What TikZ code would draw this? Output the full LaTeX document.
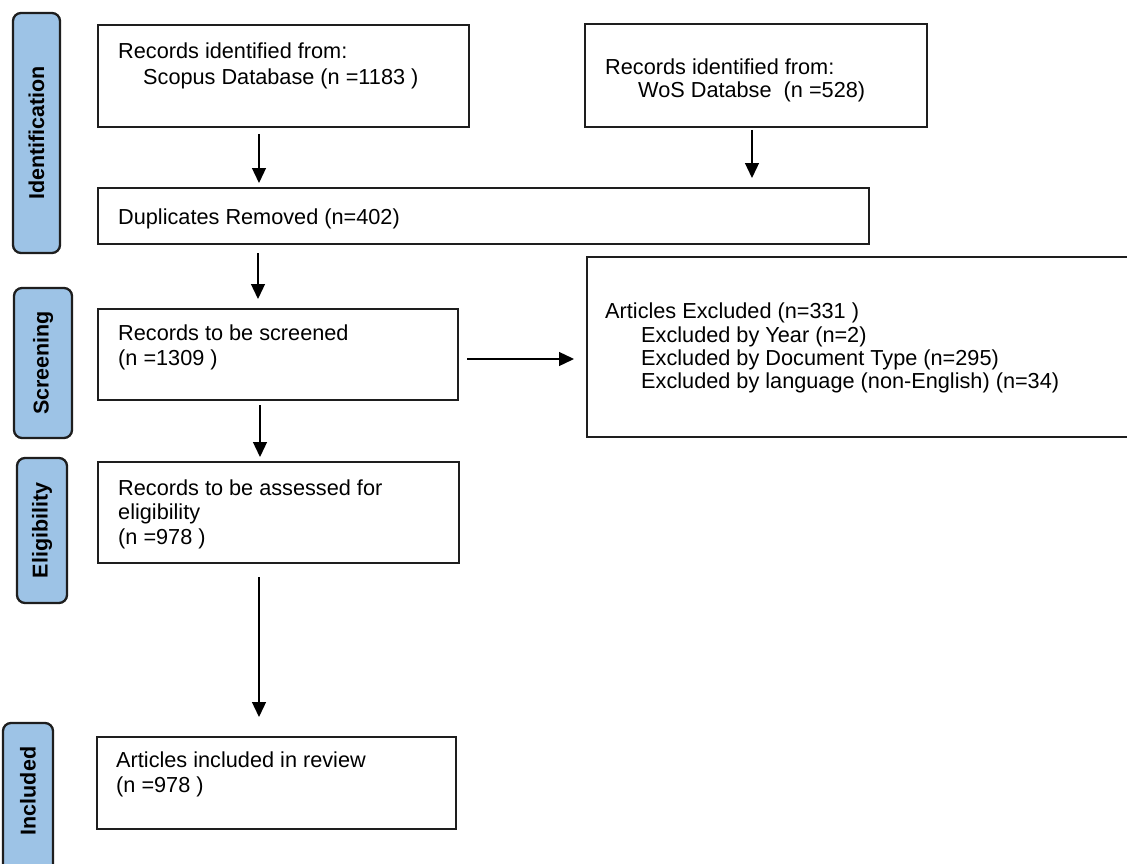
\documentclass[tikz,border=0pt]{standalone}
\usepackage{fontspec}
\setmainfont{Liberation Sans}
\usetikzlibrary{arrows.meta,calc}
\definecolor{lblue}{RGB}{157,195,230}
\definecolor{edge}{RGB}{30,30,30}
\begin{document}
\begin{tikzpicture}[x=1pt,y=-1pt,
  box/.style={draw=edge, line width=2.5pt, anchor=north west, inner sep=0pt, outer sep=0pt},
  stage/.style={draw=edge, line width=2.3pt, fill=lblue, rounded corners=8pt, anchor=north west, inner sep=0pt, outer sep=0pt},
  stagetxt/.style={rotate=90, inner sep=0pt, font=\fontsize{21.5}{24}\selectfont\bfseries},
  txt/.style={anchor=base west, inner sep=0pt, font=\fontsize{21.7}{25}\selectfont},
  arr/.style={line width=1.3pt, -{Triangle[length=15pt,width=14pt]}}]
\clip (0,0) rectangle (1127,864);
\fill[white] (0,0) rectangle (1127,864);

% stage labels
\node[stage, minimum width=47pt, minimum height=240pt] (lid) at (13,13) {};
\node[stagetxt] (lidT) at (lid.center) {Identification};
\node[stage, minimum width=58pt, minimum height=150pt] (lsc) at (14,288) {};
\node[stagetxt] (lscT) at (lsc.center) {Screening};
\node[stage, minimum width=50pt, minimum height=145pt] (lel) at (17,458) {};
\node[stagetxt] (lelT) at (lel.center) {Eligibility};
\node[stage, minimum width=50pt, minimum height=160pt] (lin) at (3,723) {};
\node[stagetxt] (linT) at (3+25,791) {Included};

% boxes
\node[box, minimum width=371pt, minimum height=102pt] (scopus) at (98,25) {};
\node[box, minimum width=342pt, minimum height=103pt] (wos) at (585,24) {};
\node[box, minimum width=771pt, minimum height=56pt] (dup) at (98,188) {};
\node[box, minimum width=360pt, minimum height=91pt] (screen) at (98,309) {};
\node[box, minimum width=548pt, minimum height=180pt] (excl) at (587,257) {};
\node[box, minimum width=361pt, minimum height=101pt] (elig) at (98,462) {};
\node[box, minimum width=359pt, minimum height=92pt] (incl) at (97,737) {};

% texts
\node[txt] (scopusT1) at (118,59) {Records identified from:};
\node[txt] (scopusT2) at (143,85) {Scopus Database (n =1183 )};
\node[txt] (wosT1) at (605,75) {Records identified from:};
\node[txt] (wosT2) at (638,98) {WoS Databse\ \ (n =528)};
\node[txt] (dupT) at (118,224) {Duplicates Removed (n=402)};
\node[txt] (screenT1) at (118,340) {Records to be screened};
\node[txt] (screenT2) at (118,365) {(n =1309 )};
\node[txt] (exclT1) at (605,318) {Articles Excluded (n=331 )};
\node[txt] (exclT2) at (641,342) {Excluded by Year (n=2)};
\node[txt] (exclT3) at (641,365) {Excluded by Document Type (n=295)};
\node[txt] (exclT4) at (641,388) {Excluded by language (non-English) (n=34)};
\node[txt] (eligT1) at (118,495) {Records to be assessed for};
\node[txt] (eligT2) at (118,519) {eligibility};
\node[txt] (eligT3) at (118,544) {(n =978 )};
\node[txt] (inclT1) at (116,767) {Articles included in review};
\node[txt] (inclT2) at (116,792) {(n =978 )};

% arrow columns
\coordinate (c1) at (259,0);
\coordinate (c2) at (752,0);
\coordinate (c3) at (258,0);
\coordinate (c4) at (260,0);
\coordinate (r1) at (0,359);

\draw[arr, shorten <=7pt, shorten >=5pt] (c1 |- scopus.south) -- (c1 |- dup.north);
\draw[arr, shorten <=3pt, shorten >=10pt] (c2 |- wos.south) -- (c2 |- dup.north);
\draw[arr, shorten <=9pt, shorten >=10pt] (c3 |- dup.south) -- (c3 |- screen.north);
\draw[arr, shorten <=9pt, shorten >=13pt] (screen.east |- r1) -- (excl.west |- r1);
\draw[arr, shorten <=5pt, shorten >=5pt] (c4 |- screen.south) -- (c4 |- elig.north);
\draw[arr, shorten <=14pt, shorten >=20pt] (c1 |- elig.south) -- (c1 |- incl.north);
\end{tikzpicture}
\end{document}
